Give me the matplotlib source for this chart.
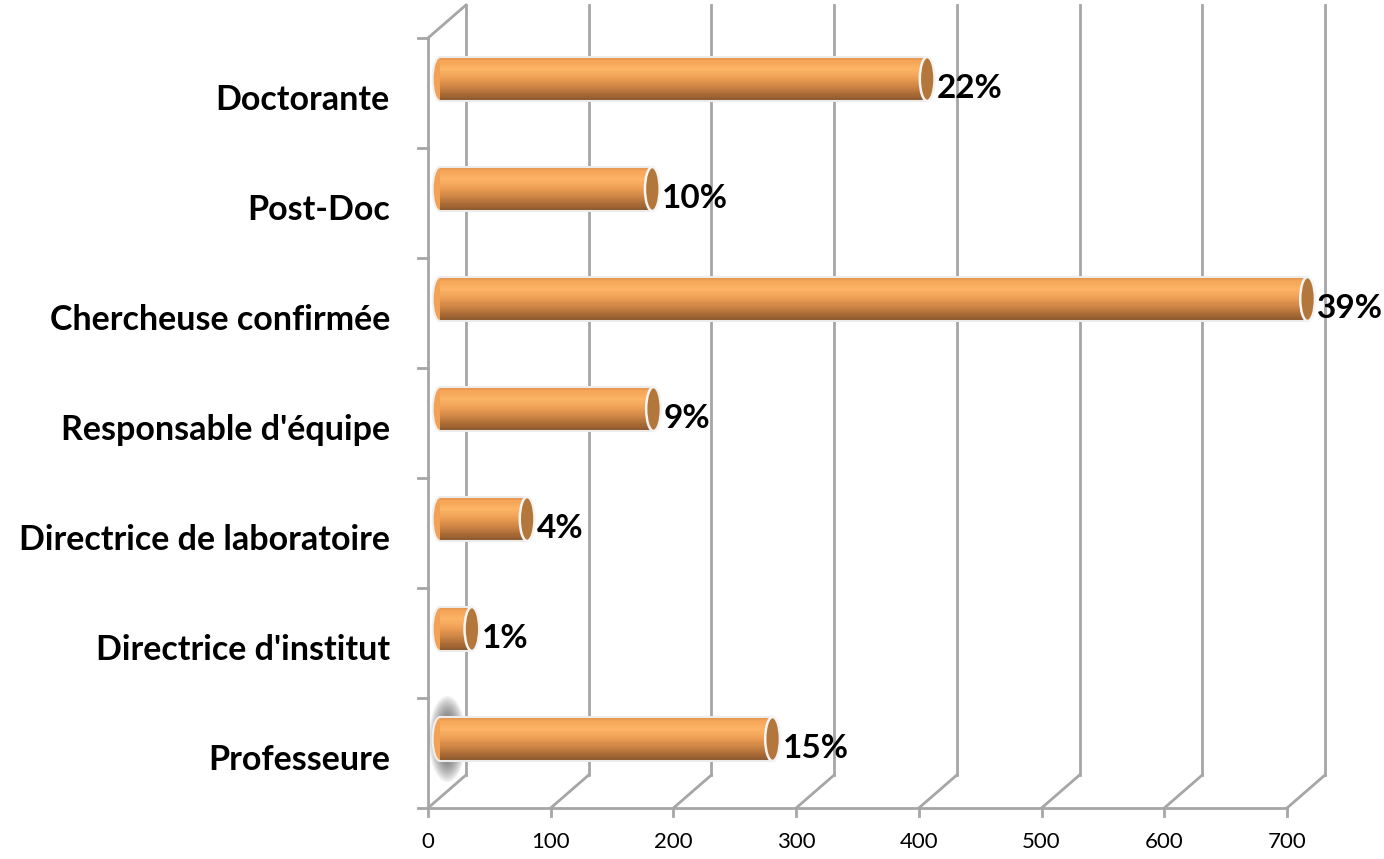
import matplotlib
matplotlib.use("Agg")
import matplotlib.pyplot as plt
import matplotlib.transforms as mtransforms
from matplotlib.patches import Ellipse
from matplotlib.colors import LinearSegmentedColormap
import numpy as np

# data, bottom to top as drawn
categories = ["Professeure", "Directrice d'institut", "Directrice de laboratoire",
              "Responsable d'équipe", "Chercheuse confirmée", "Post-Doc", "Doctorante"]
values = [271, 26, 71, 174, 707, 173, 397]
pct_labels = ["15%", "1%", "4%", "9%", "39%", "10%", "22%"]
xticks = [0, 100, 200, 300, 400, 500, 600, 700]

W, H = 1384, 859
fig = plt.figure(figsize=(W / 100, H / 100), dpi=100)
ax = fig.add_axes([428 / W, (H - 808) / H, (1287 - 428) / W, (808 - 38) / H])
ax.set_xlim(0, 700)
ax.set_ylim(-0.5, len(categories) - 0.5)
ax.axis("off")

grid_c = "#a6a6a6"
# depth offsets (display inches at dpi 100)
back = mtransforms.ScaledTranslation(0.38, 0.33, fig.dpi_scale_trans)
mid = mtransforms.ScaledTranslation(0.12, 0.14, fig.dpi_scale_trans)
t_back = ax.transData + back
t_mid = ax.transData + mid
ident = mtransforms.IdentityTransform()
y0, y1 = ax.get_ylim()


def depth_line(x, y):
    # line from the front plane to the back wall at data point (x, y)
    p = ax.transData.transform((x, y))
    q = t_back.transform((x, y))
    ax.plot([p[0], q[0]], [p[1], q[1]], color=grid_c, lw=2, transform=ident,
            clip_on=False, zorder=1)


# back wall grid lines + floor diagonals
for v in xticks:
    ax.plot([v, v], [y0, y1], color=grid_c, lw=2, transform=t_back, clip_on=False, zorder=1)
    depth_line(v, y0)
depth_line(0, y1)

# front axes
ax.plot([0, 0], [y0, y1], color=grid_c, lw=2, clip_on=False, zorder=1)
ax.plot([0, 700], [y0, y0], color=grid_c, lw=2, clip_on=False, zorder=1)

# tick marks
for b in np.arange(y0, y1 + 0.01, 1.0):
    p = ax.transData.transform((0, b))
    ax.plot([p[0] - 10, p[0]], [p[1], p[1]], color=grid_c, lw=2, transform=ident, clip_on=False)
for v in xticks:
    p = ax.transData.transform((v, y0))
    ax.plot([p[0], p[0]], [p[1], p[1] - 8], color=grid_c, lw=2, transform=ident, clip_on=False)
    ax.text(v, y0, str(v), transform=ax.transData + mtransforms.ScaledTranslation(0, -0.24, fig.dpi_scale_trans),
            ha="center", va="top", fontsize=16, family="Lato", color="black")

# category labels
for i, c in enumerate(categories):
    ax.text(0, i, c, transform=ax.transData + mtransforms.ScaledTranslation(-0.38, -0.07, fig.dpi_scale_trans),
            ha="right", va="center", fontsize=24.5, fontweight="bold", family="Lato", color="black")

# cylinder bars
cmap = LinearSegmentedColormap.from_list(
    "cyl", [(0.0, "#84522a"), (0.2, "#b4723a"), (0.5, "#eb9c52"),
            (0.72, "#fdb466"), (0.9, "#f6a658"), (1.0, "#de8e4a")])
bh = 0.4
n = 40
ys = np.arange(len(categories))
cap_w = 12

# soft shadow behind the first bar's left end
for k in range(10):
    ax.add_patch(Ellipse((6, 0), 30 - k * 2, 0.78 - k * 0.04, facecolor="#444444",
                         alpha=0.09, lw=0, transform=t_mid, zorder=2, clip_on=False))

for i in ys:
    ax.add_patch(Ellipse((0, i), cap_w, bh, facecolor="#f2a155", edgecolor="#f0f0f0",
                         lw=1.5, transform=t_mid, zorder=3, clip_on=False))
for k in range(n):
    lo = -bh / 2 + bh * k / n
    ax.barh(ys + lo, values, height=bh / n, left=0, align="edge",
            color=cmap((k + 0.5) / n), lw=0, transform=t_mid, zorder=4, clip_on=False)
for i, v in enumerate(values):
    ax.plot([0, v], [i + bh / 2, i + bh / 2], color="#ececec", lw=1.5, transform=t_mid,
            zorder=5, clip_on=False)
    ax.plot([0, v], [i - bh / 2, i - bh / 2], color="#ececec", lw=1.5, transform=t_mid,
            zorder=5, clip_on=False)
    ax.add_patch(Ellipse((v, i), cap_w, bh, facecolor="#b4773b", edgecolor="#f4f4f4",
                         lw=1.8, transform=t_mid, zorder=6, clip_on=False))
    ax.text(v + cap_w / 2 + 2, i, pct_labels[i],
            transform=t_mid + mtransforms.ScaledTranslation(0, -0.09, fig.dpi_scale_trans),
            ha="left", va="center", fontsize=24, fontweight="bold", family="Lato",
            color="black", zorder=7)

fig.savefig("out.png", dpi=100)
